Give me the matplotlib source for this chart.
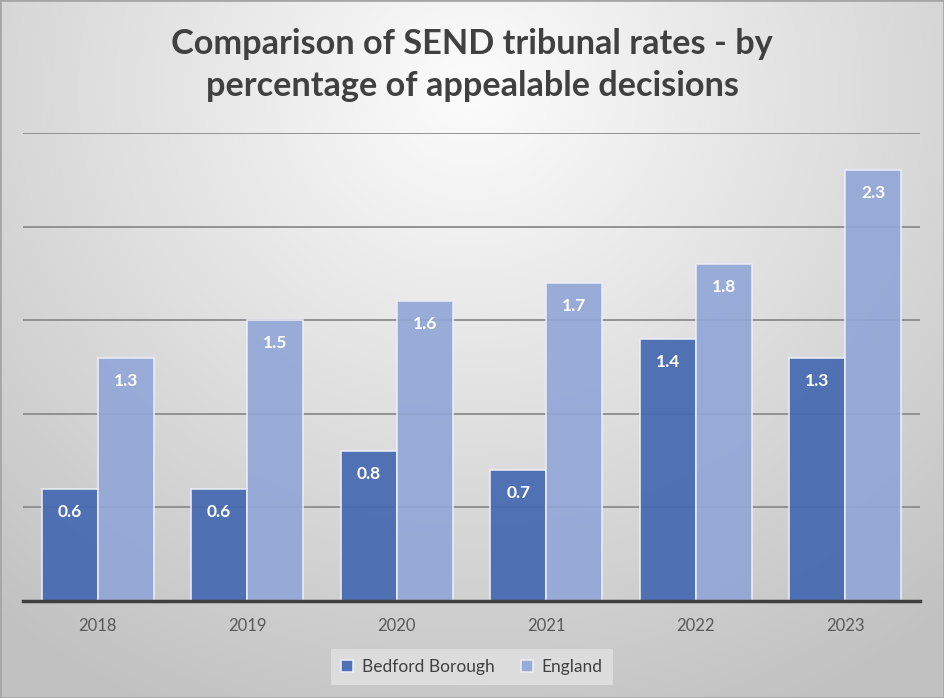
import numpy as np
import matplotlib.pyplot as plt
from matplotlib.patches import Rectangle

years = ['2018', '2019', '2020', '2021', '2022', '2023']
bedford = [0.6, 0.6, 0.8, 0.7, 1.4, 1.3]
england = [1.3, 1.5, 1.6, 1.7, 1.8, 2.3]

plt.rcParams['font.family'] = ['Lato', 'DejaVu Sans']

fig = plt.figure(figsize=(9.44, 6.98), dpi=100)

# radial gradient background
bg = fig.add_axes([0, 0, 1, 1], zorder=-10)
yy, xx = np.mgrid[0:698, 0:944]
d = np.sqrt(((xx - 470) / 700.0) ** 2 + ((yy - 90) / 650.0) ** 2)
g = np.clip(0.99 - 0.22 * d, 0.76, 0.99)
bg.imshow(np.dstack([g, g, g]), aspect='auto', extent=[0, 1, 0, 1])
bg.add_patch(Rectangle((0, 0), 1, 1, transform=bg.transAxes, fill=False,
                       edgecolor='#a6a6a6', lw=2))
bg.axis('off')

ax = fig.add_axes([23 / 944, 97 / 698, 897 / 944, 468 / 698])
ax.patch.set_alpha(0)

x = np.arange(len(years))
w = 0.375
b1 = ax.bar(x - w / 2, bedford, w, color='#4468b0', alpha=0.92,
            edgecolor='#eef0f8', linewidth=1.2, zorder=3, label='Bedford Borough')
b2 = ax.bar(x + w / 2, england, w, color='#91a5d6', alpha=0.9,
            edgecolor='#eef0f8', linewidth=1.2, zorder=3, label='England')

for bars, vals in ((b1, bedford), (b2, england)):
    for r, v in zip(bars, vals):
        ax.annotate(f'{v}', (r.get_x() + r.get_width() / 2, v), xytext=(0, -16.5),
                    textcoords='offset points', ha='center', va='center',
                    color='white', fontsize=12.5, fontweight='bold', zorder=4)

ax.set_xlim(-0.5, len(years) - 0.5)
ax.set_ylim(0, 2.5)
ax.set_yticks([0.5, 1.0, 1.5, 2.0, 2.5])
ax.set_yticklabels([])
ax.tick_params(axis='y', length=0)
ax.grid(axis='y', color='#8c8c8c', lw=1.3, zorder=0)
ax.set_xticks(x)
ax.set_xticklabels(years, fontsize=12, color='#595959')
ax.tick_params(axis='x', length=0, pad=12)
for s in ['top', 'right', 'left']:
    ax.spines[s].set_visible(False)
ax.spines['bottom'].set_color('#404040')
ax.spines['bottom'].set_linewidth(2.5)
ax.spines['bottom'].set_zorder(5)

fig.text(0.5, 1 - 65 / 698, 'Comparison of SEND tribunal rates - by\npercentage of appealable decisions',
         ha='center', va='center', fontsize=24.7, fontweight='bold', color='#404040',
         linespacing=1.35)

leg = fig.legend(loc='center', bbox_to_anchor=(472 / 944, 1 - 667 / 698), ncol=2,
                 fontsize=12.5, frameon=True, fancybox=False, handlelength=0.7,
                 handleheight=0.7, handletextpad=0.5, columnspacing=1.5,
                 borderpad=0.6)
leg.get_frame().set_facecolor('#dcdcdc')
leg.get_frame().set_edgecolor('none')
leg.get_frame().set_alpha(1)
for t in leg.get_texts():
    t.set_color('#404040')

fig.savefig('out.png', dpi=100)
